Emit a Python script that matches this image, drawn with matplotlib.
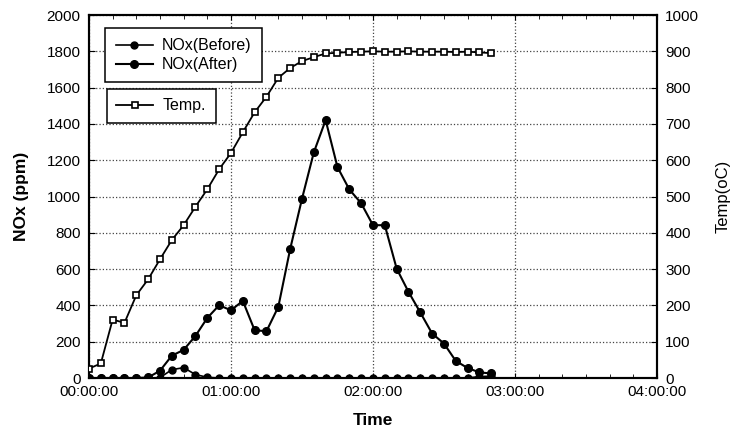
import matplotlib.pyplot as plt
import matplotlib.ticker as mticker

plt.rcParams['font.family'] = ['Liberation Sans', 'DejaVu Sans']

# time in minutes from start (points every 5 min)
minutes = [0, 5, 10, 15, 20, 25, 30, 35, 40, 45, 50, 55, 60, 65, 70, 75, 80, 85,
           90, 95, 100, 105, 110, 115, 120, 125, 130, 135, 140, 145, 150, 155,
           160, 165, 170]

nox_before = [0, 0, 0, 0, 0, 0, 2, 46, 57, 19, 4, 0, 0, 0, 0, 0, 0, 0,
              0, 0, 0, 0, 0, 0, 0, 0, 0, 0, 0, 0, 0, 0,
              0, 8, 10]

nox_after = [0, 0, 0, 0, 0, 3, 40, 123, 155, 232, 331, 401, 373, 425, 263, 258, 392, 710,
             987, 1243, 1421, 1162, 1039, 963, 842, 842, 603, 475, 361, 245, 190, 94,
             55, 31, 25]

temp = [26, 40, 161, 152, 228, 272, 327, 380, 421, 472, 520, 575, 620, 677, 732, 775, 827, 854,
        873, 884, 894, 896, 898, 899, 900, 899, 899, 900, 899, 899, 899, 898,
        899, 897, 895]

xtick_pos = [0, 60, 120, 180, 240]
xtick_labels = ['00:00:00', '01:00:00', '02:00:00', '03:00:00', '04:00:00']

fig = plt.figure(figsize=(7.39, 4.34), dpi=100)
ax = fig.add_axes([0.1204, 0.129, 0.7686, 0.8364])
ax2 = ax.twinx()

l1, = ax.plot(minutes, nox_before, '-', color='black', lw=1.2, marker='o', ms=5,
              mfc='black', mec='black', zorder=3)
l2, = ax.plot(minutes, nox_after, '-', color='black', lw=1.5, marker='o', ms=5.5,
              mfc='black', mec='black', zorder=3)
l3, = ax2.plot(minutes, temp, '-', color='black', lw=1.3, marker='s', ms=5,
               mfc='white', mec='black', mew=1.2, zorder=3)

ax.set_xlim(0, 240)
ax.set_ylim(0, 2000)
ax2.set_ylim(0, 1000)

ax.set_xticks(xtick_pos)
ax.set_xticklabels(xtick_labels)
ax.xaxis.set_minor_locator(mticker.MultipleLocator(10))
ax.set_yticks(range(0, 2001, 200))
ax2.set_yticks(range(0, 1001, 100))

ax.grid(True, which='major', linestyle=':', color='#444444', lw=0.9)

ax.tick_params(axis='x', which='both', direction='in', top=True, labelsize=11, pad=5)
ax.tick_params(axis='x', which='minor', length=3)
ax.tick_params(axis='y', direction='in', labelsize=11, length=4, pad=6)
ax2.tick_params(axis='y', direction='in', labelsize=11, length=4, pad=6)

for a in (ax, ax2):
    for s in a.spines.values():
        s.set_linewidth(1.5)
        s.set_color('black')

ax.set_xlabel('Time', fontsize=12.5, fontweight='bold', labelpad=10)
ax.set_ylabel('NOx (ppm)', fontsize=12.5, fontweight='bold', labelpad=13)
ax2.set_ylabel('Temp(oC)', fontsize=12, rotation=90, labelpad=12)

leg1 = ax.legend([l1, l2], ['NOx(Before)', 'NOx(After)'], loc='upper left',
                 bbox_to_anchor=(0.029, 0.965), fontsize=11.5, fancybox=False,
                 edgecolor='black', framealpha=1, borderpad=0.65, labelspacing=0.25,
                 handlelength=2.3, handletextpad=0.6, borderaxespad=0)
leg1.get_frame().set_linewidth(1.1)
ax.add_artist(leg1)
leg2 = ax.legend([l3], ['Temp.'], loc='upper left',
                 bbox_to_anchor=(0.031, 0.797), fontsize=11.5, fancybox=False,
                 edgecolor='black', framealpha=1, borderpad=0.6,
                 handlelength=2.3, handletextpad=0.6, borderaxespad=0)
leg2.get_frame().set_linewidth(1.1)

fig.savefig('out.png', dpi=100)
